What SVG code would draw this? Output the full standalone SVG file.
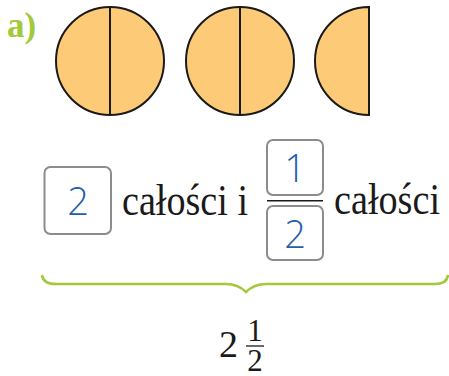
<svg xmlns="http://www.w3.org/2000/svg" width="449" height="376" viewBox="0 0 449 376">
<style>
.pie{fill:#fdca77;stroke:#1a1a1a;stroke-width:2}
.cut{stroke:#1a1a1a;stroke-width:2}
.box{fill:#fff;stroke:#8c8c8c;stroke-width:2}
.dig{font-family:"Open Sans","Liberation Sans",sans-serif;font-weight:300;fill:#1f5fae;font-size:38px;text-anchor:middle}
.ser{font-family:"Liberation Serif","Times New Roman",serif;fill:#1a1a1a}
.green{fill:#a2c93a}
</style>
<rect width="449" height="376" fill="#fff"/>
<g id="label">
<text class="ser green" x="7" y="37" font-size="35" font-weight="bold">a)</text>
</g>
<g id="circle1">
<circle class="pie" cx="110" cy="61" r="54"/>
<line class="cut" x1="110" y1="7" x2="110" y2="115"/>
</g>
<g id="circle2">
<circle class="pie" cx="240" cy="61" r="54"/>
<line class="cut" x1="240" y1="7" x2="240" y2="115"/>
</g>
<g id="half">
<path class="pie" d="M369,7 A54,54 0 0 0 369,115 Z"/>
</g>
<g id="whole-box">
<rect class="box" x="44.5" y="167" width="66.5" height="67" rx="6"/>
<text class="dig" x="78" y="215">2</text>
</g>
<g id="text1">
<text class="ser" x="122" y="215" font-size="45" textLength="126" lengthAdjust="spacingAndGlyphs">całości i</text>
</g>
<g id="fraction">
<rect class="box" x="267" y="140" width="56" height="55" rx="6"/>
<text class="dig" x="295" y="181.5">1</text>
<line x1="267" y1="200.7" x2="323" y2="200.7" stroke="#1a1a1a" stroke-width="1.5"/>
<rect class="box" x="267" y="206" width="56" height="54" rx="6"/>
<text class="dig" x="295" y="248">2</text>
</g>
<g id="text2">
<text class="ser" x="334" y="214" font-size="45" textLength="106" lengthAdjust="spacingAndGlyphs">całości</text>
</g>
<g id="connectors">
<path d="M42,275 Q43,284 56,284 L226,284 Q238,284 246,292 Q254,284 266,284 L435,284 Q447,284 448,275" fill="none" stroke="#a2c93a" stroke-width="2.5"/>
</g>
<g id="result">
<text class="ser" x="219" y="357" font-size="38">2</text>
<text class="ser" x="255" y="341" font-size="31" text-anchor="middle">1</text>
<line x1="246" y1="346" x2="264" y2="346" stroke="#1a1a1a" stroke-width="1.3"/>
<text class="ser" x="255" y="371" font-size="31" text-anchor="middle">2</text>
</g>
</svg>
